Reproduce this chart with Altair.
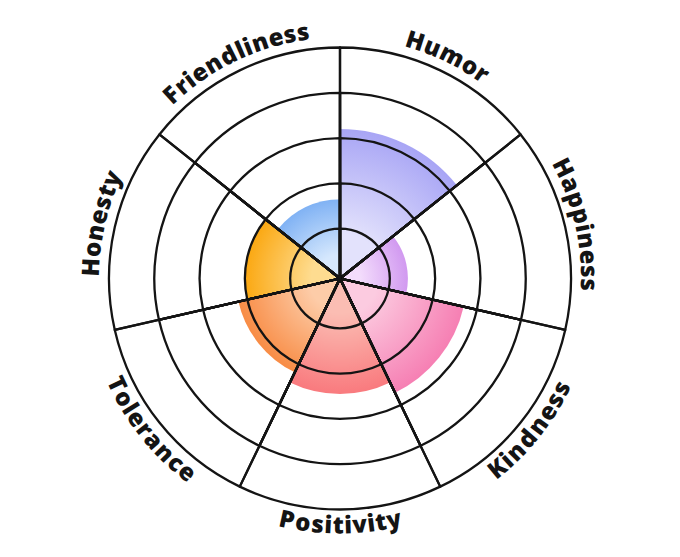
import math
import altair as alt
import pandas as pd

# ---- data ----
categories = ["Humor", "Happiness", "Kindness", "Positivity", "Tolerance", "Honesty", "Friendliness"]
values = [3.2, 1.4, 2.7, 2.45, 2.2, 2.0, 1.65]
inner_colors = ["#e3e2fc", "#f3dcfc", "#fccbe0", "#fbbdb3", "#fdcca8", "#fedc90", "#d6e8fd"]
outer_colors = ["#a8a5f5", "#d199f0", "#f67fb3", "#f97a7e", "#f88c45", "#fba812", "#80b2f4"]
levels = [1, 2, 3, 4, 5]

# ---- layout / style ----
W, H = 664, 541
R0, R1 = 4.5, 231.0          # pixel range of the radius scale
DMAX = 5
LABEL_R = 248.0
FS = 24
LS = 1.4
INK = "#141414"

n = len(categories)
step = 360.0 / n

theta_scale = alt.Scale(domain=[0, 360], range=[0, 2 * math.pi])
radius_scale = alt.Scale(type="linear", domain=[0, DMAX], range=[R0, R1])

sectors = pd.DataFrame({"cat": categories, "value": values, "idx": list(range(n))})
sectors["start"] = sectors["idx"] * step
sectors["end"] = (sectors["idx"] + 1) * step


def rpx(v):
    return R0 + (R1 - R0) * v / DMAX


def gradient_for(i, v, c_in, c_out):
    r = rpx(v)
    a0, a1 = i * step, (i + 1) * step
    pts = [(0.0, 0.0)]
    for a in (a0, a1):
        pts.append((r * math.sin(math.radians(a)), -r * math.cos(math.radians(a))))
    for c in (0, 90, 180, 270, 360):
        if a0 < c < a1:
            pts.append((r * math.sin(math.radians(c)), -r * math.cos(math.radians(c))))
    xs = [p[0] for p in pts]
    ys = [p[1] for p in pts]
    w, h = max(xs) - min(xs), max(ys) - min(ys)
    s = max(w, h)
    sx0 = min(xs) + w / 2 - s / 2
    sy0 = min(ys) + h / 2 - s / 2
    cx, cy = (0 - sx0) / s, (0 - sy0) / s
    return {
        "gradient": "radial",
        "x1": cx, "y1": cy, "r1": 0,
        "x2": cx, "y2": cy, "r2": r / s,
        "stops": [
            {"offset": 0, "color": c_in},
            {"offset": 0.3, "color": c_in},
            {"offset": 1, "color": c_out},
        ],
    }


base = alt.Chart(sectors)
sector_layers = []
for i, cat in enumerate(categories):
    sector_layers.append(
        base.transform_filter(alt.datum.cat == cat)
        .mark_arc(fill=gradient_for(i, values[i], inner_colors[i], outer_colors[i]))
        .encode(
            theta=alt.Theta("start:Q", scale=theta_scale),
            theta2="end:Q",
            radius=alt.Radius("value:Q", scale=radius_scale),
            radius2=alt.value(0),
        )
    )

# grid: sector outlines at each level (gives rings + spokes)
grid_rows = []
for i, cat in enumerate(categories):
    for lv in levels:
        grid_rows.append({"cat": cat, "level": lv, "start": i * step, "end": (i + 1) * step})
grid_df = pd.DataFrame(grid_rows)
grid = alt.Chart(grid_df).mark_arc(filled=False, stroke=INK, strokeWidth=2.3, strokeJoin="round").encode(
    theta=alt.Theta("start:Q", scale=theta_scale),
    theta2="end:Q",
    radius=alt.Radius("level:Q", scale=radius_scale),
    radius2=alt.value(0),
)

# curved labels: one glyph per row, placed along the circle
em = {
    "F": 0.590, "r": 0.433, "i": 0.286, "e": 0.589, "n": 0.662, "d": 0.662, "l": 0.286,
    "s": 0.492, "H": 0.755, "u": 0.662, "m": 0.996, "o": 0.619, "a": 0.604, "p": 0.643,
    "K": 0.635, "P": 0.633, "t": 0.431, "v": 0.558, "y": 0.558, "T": 0.573, "c": 0.513,
    "h": 0.662,
}
label_rows = []
for i, cat in enumerate(categories):
    c = (i + 0.5) * step
    flip = 90 < c < 270
    widths = [em.get(ch, 0.6) * FS for ch in cat]
    total = sum(widths) + LS * (len(cat) - 1)
    pos = 0.0
    for ch, wch in zip(cat, widths):
        mid = pos + wch / 2 - total / 2
        off = math.degrees(mid / LABEL_R)
        th = c - off if flip else c + off
        rot = (th - 180) if flip else th
        label_rows.append({"ch": ch, "th": th % 360, "rot": rot % 360})
        pos += wch + LS
labels_df = pd.DataFrame(label_rows)
labels = alt.Chart(labels_df).mark_text(
    font="Open Sans", fontWeight=800, fontSize=FS, color=INK, align="center", baseline="middle"
).encode(
    theta=alt.Theta("th:Q", scale=theta_scale),
    radius=alt.value(LABEL_R),
    text="ch:N",
    angle=alt.Angle("rot:Q", scale=None),
)

chart = alt.layer(*sector_layers, grid, labels).properties(
    width=W, height=H, autosize=alt.AutoSizeParams(type="none"), padding=0
).configure_view(stroke=None)

chart.save("out.html", embed_options={"renderer": "svg", "actions": False})
